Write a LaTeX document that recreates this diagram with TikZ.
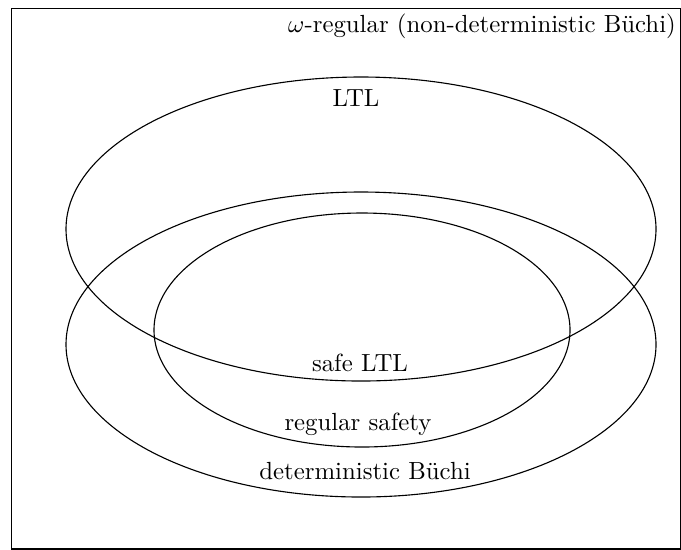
\documentclass[tikz,border=0pt]{standalone}
\begin{document}
\begin{tikzpicture}[x=0.4033pt,y=-0.4033pt,
  region/.style={draw=black,line width=0.45pt},
  lbl/.style={inner sep=0pt}]
\useasboundingbox (0,0) rectangle (681,549);
% outer frame: all omega-regular properties
\node[draw,line width=0.6pt,minimum width=669*0.4033pt,minimum height=540*0.4033pt,inner sep=0pt,anchor=north west] (omega) at (11,8) {};
\node[lbl,anchor=north] (omegalbl) at (482,13) {$\omega$-regular (non-deterministic Büchi)};
% LTL
\draw[region] (361,229) ellipse [x radius=295, y radius=152];
\node[lbl] (ltl) at (356,98) {LTL};
% deterministic Buchi
\draw[region] (361,344.5) ellipse [x radius=295, y radius=152.5];
\node[lbl] (dba) at (365,471) {deterministic Büchi};
% regular safety
\draw[region] (362,330) ellipse [x radius=208, y radius=117];
\node[lbl] (regsafe) at (358,424) {regular safety};
\node[lbl] (safeltl) at (360,363) {safe LTL};
\end{tikzpicture}
\end{document}
